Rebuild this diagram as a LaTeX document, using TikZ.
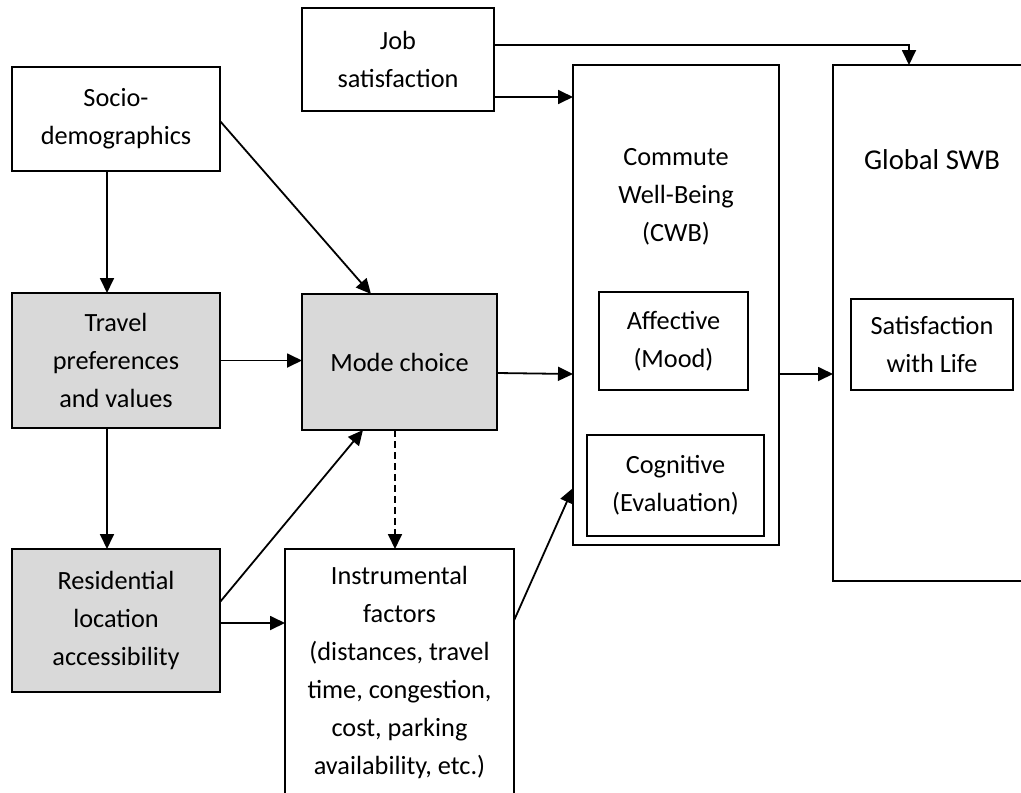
\documentclass[tikz,border=0pt]{standalone}
\usepackage{fontspec}
\setmainfont{Carlito}
\usetikzlibrary{arrows.meta}
\definecolor{boxgray}{RGB}{217,217,217}
\begin{document}
\begin{tikzpicture}[x=1pt,y=-1pt,
  box/.style={draw=black, line width=1.8pt, inner sep=0pt, outer sep=0pt, align=center,
    font=\fontsize{26.3}{38}\selectfont},
  greybox/.style={box, fill=boxgray},
  txt/.style={inner sep=0pt, outer sep=0pt, align=center, font=\fontsize{26.3}{38}\selectfont},
  arr/.style={line width=1.8pt, -{Triangle[length=15pt,width=14pt]}}]
\path[use as bounding box] (0,0) rectangle (1021,793);
\clip (0,0) rectangle (1021,793);

% boxes
\node[box, minimum width=192pt, minimum height=103pt] (job) at (398,59.5) {Job\\satisfaction};
\node[box, minimum width=208pt, minimum height=104pt] (socio) at (116,119) {Socio-\\demographics};
\node[greybox, minimum width=208pt, minimum height=135pt] (travel) at (116,360.5) {Travel\\preferences\\and values};
\node[greybox, minimum width=195pt, minimum height=136pt] (mode) at (399.5,362) {Mode choice};
\node[greybox, minimum width=208pt, minimum height=143pt] (res) at (116,620.5) {Residential\\location\\accessibility};
\node[box, minimum width=229pt, minimum height=247pt] (instr) at (399.5,672.5) {Instrumental\\factors\\(distances, travel\\time, congestion,\\cost, parking\\availability, etc.)};
\node[box, minimum width=206pt, minimum height=480pt] (cwb) at (676,305) {};
\node[txt] (cwbtitle) at (676,197) {Commute\\Well-Being\\(CWB)};
\node[box, minimum width=149pt, minimum height=98pt] (aff) at (673.5,341) {Affective\\(Mood)};
\node[box, minimum width=177pt, minimum height=101pt] (cog) at (675.5,485.5) {Cognitive\\(Evaluation)};
\node[box, minimum width=198pt, minimum height=516pt] (swb) at (932,323) {};
\node[txt, font=\fontsize{28.7}{38}\selectfont] (swbtitle) at (932,160) {Global SWB};
\node[box, minimum width=162pt, minimum height=91pt] (sat) at (932,344.5) {Satisfaction\\with Life};

% connectors
\draw[arr] ([yshift=14.5pt]job.east) -| ([xshift=-23pt]swb.north);
\draw[arr] ([yshift=-37.5pt]job.east) -- ([yshift=-37.5pt]job.east -| cwb.west);
\draw[arr] ([yshift=-2pt]socio.east) -- ([xshift=-28.5pt]mode.north);
\draw[arr] ([xshift=-9pt]socio.south) -- ([xshift=-9pt]travel.north);
\draw[arr] (travel.east) -- (travel.east -| mode.west);
\draw[arr] ([xshift=-9pt]travel.south) -- ([xshift=-9pt]res.north);
\draw[arr] ([yshift=18.5pt]res.east) -- ([xshift=-36.5pt]mode.south);
\draw[arr, dash pattern=on 7pt off 4pt] ([xshift=-4.5pt]mode.south) -- ([xshift=-4.5pt]instr.north);
\draw[arr] ([yshift=-2.5pt]res.east) -- ([yshift=-2.5pt]res.east -| instr.west);
\draw[arr] ([yshift=52pt]instr.east) -- ([yshift=-183pt]cwb.west);
\draw[arr] ([yshift=-11pt]mode.east) -- ([yshift=-69pt]cwb.west);
\draw[arr] ([yshift=-69pt]cwb.east) -- ([yshift=-69pt]cwb.east -| swb.west);
\end{tikzpicture}
\end{document}
